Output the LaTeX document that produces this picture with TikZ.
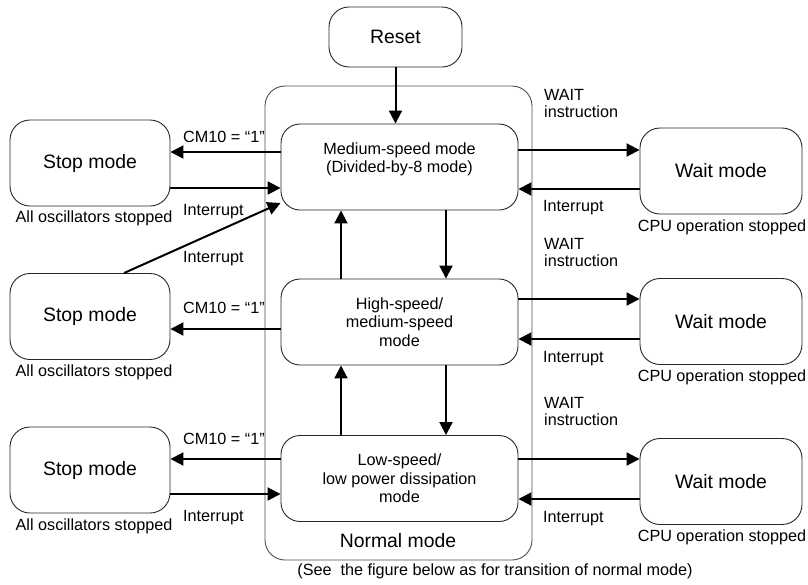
\documentclass[tikz,border=0pt]{standalone}
\usepackage{fontspec}
\setmainfont{Liberation Sans}
\usetikzlibrary{positioning,arrows.meta}

\begin{document}
\begin{tikzpicture}[x=1pt, y=-1pt, state/.style={rectangle, rounded corners=20pt, draw=black!85, line width=0.9pt, minimum width=160pt, minimum height=86pt, inner sep=0pt, font=\fontsize{19.4}{22}\selectfont}, mode/.style={rectangle, rounded corners=19pt, draw=black!85, line width=0.9pt, minimum width=237pt, minimum height=86pt, inner sep=0pt, align=center, font=\fontsize{16.2}{18.5}\selectfont}, box/.style={rectangle, rounded corners=20pt, draw=black!70, line width=0.9pt, minimum width=267pt, minimum height=474pt}, lbl/.style={inner sep=0pt, align=left, font=\fontsize{16.2}{17}\selectfont}, trans/.style={-{Triangle[length=13pt, width=13pt]}, line width=2pt}]
      \useasboundingbox (0,0) rectangle (808,584);

      \node [box] (normal) at (398.5,323) {};

      \node [state, minimum width=133pt, minimum height=60pt] (reset) at (395.5,37) {Reset};

      \node [mode] (modeMed) at (399.5,167) {Medium-speed mode\\(Divided-by-8 mode)\\\mbox{}};

      \node [mode] (modeHigh) at (399.5,322) {High-speed/\\medium-speed\\mode};

      \node [mode] (modeLow) at (399.5,478.5) {Low-speed/\\low power dissipation\\mode};

      \node [anchor=base, inner sep=0pt, font=\fontsize{19.4}{22}\selectfont] (normalLbl) at (398,547) {Normal mode};

      \node [lbl, anchor=base] (seeNote) at (495,575) {(See\ \ the figure below as for transition of normal mode)};

      \node [state] (stopMed) at (90,163) {Stop mode};

      \node [state] (stopHigh) at (90,316.5) {Stop mode};

      \node [state] (stopLow) at (90,470) {Stop mode};

      \node [state, minimum width=162pt] (waitMed) at (721,171) {Wait mode};

      \node [state, minimum width=162pt] (waitHigh) at (721,321.5) {Wait mode};

      \node [state, minimum width=162pt] (waitLow) at (721,481.5) {Wait mode};

      \node [lbl, anchor=base] (oscMed) at (94,222) {All oscillators stopped};

      \node [lbl, anchor=base] (oscHigh) at (94,376) {All oscillators stopped};

      \node [lbl, anchor=base] (oscLow) at (94,530) {All oscillators stopped};

      \node [lbl, anchor=base] (cpuMed) at (722,231) {CPU operation stopped};

      \node [lbl, anchor=base] (cpuHigh) at (722,381) {CPU operation stopped};

      \node [lbl, anchor=base] (cpuLow) at (722,541) {CPU operation stopped};

      \node [lbl, anchor=base west] (cmMed) at (183,142) {CM10 = “1”};

      \node [lbl, anchor=base west] (cmHigh) at (183,313) {CM10 = “1”};

      \node [lbl, anchor=base west] (cmLow) at (183,444) {CM10 = “1”};

      \node [lbl, anchor=base west] (intStopMed) at (183,215) {Interrupt};

      \node [lbl, anchor=base west] (intStopHigh) at (183,262) {Interrupt};

      \node [lbl, anchor=base west] (intStopLow) at (183,521) {Interrupt};

      \node [lbl, anchor=base west] (waitInstMed) at (544,117) {WAIT\\instruction};

      \node [lbl, anchor=base west] (waitInstHigh) at (544,266) {WAIT\\instruction};

      \node [lbl, anchor=base west] (waitInstLow) at (544,425) {WAIT\\instruction};

      \node [lbl, anchor=base west] (intWaitMed) at (543,211) {Interrupt};

      \node [lbl, anchor=base west] (intWaitHigh) at (543,362) {Interrupt};

      \node [lbl, anchor=base west] (intWaitLow) at (543,522) {Interrupt};

      \path[trans] (reset.south) edge (reset.south |- modeMed.north);

      \path[trans] (modeMed.west |- 0,152) edge (stopMed.east |- 0,152);

      \path[trans] (stopMed.east |- 0,188) edge (modeMed.west |- 0,188);

      \path[trans] (stopHigh.north -| 124,0) edge (modeMed.west |- 0,203);

      \path[trans] (modeMed.east |- 0,150) edge (waitMed.west |- 0,150);

      \path[trans] (waitMed.west |- 0,189) edge (modeMed.east |- 0,189);

      \path[trans] (modeMed.south -| 446,0) edge (modeHigh.north -| 446,0);

      \path[trans] (modeHigh.north -| 341,0) edge (modeMed.south -| 341,0);

      \path[trans] (modeHigh.west |- 0,329) edge (stopHigh.east |- 0,329);

      \path[trans] (modeHigh.east |- 0,299) edge (waitHigh.west |- 0,299);

      \path[trans] (waitHigh.west |- 0,339) edge (modeHigh.east |- 0,339);

      \path[trans] (modeHigh.south -| 446,0) edge (modeLow.north -| 446,0);

      \path[trans] (modeLow.north -| 341,0) edge (modeHigh.south -| 341,0);

      \path[trans] (modeLow.west |- 0,459) edge (stopLow.east |- 0,459);

      \path[trans] (stopLow.east |- 0,494) edge (modeLow.west |- 0,494);

      \path[trans] (modeLow.east |- 0,459) edge (waitLow.west |- 0,459);

      \path[trans] (waitLow.west |- 0,499) edge (modeLow.east |- 0,499);
    \end{tikzpicture}
\end{document}
